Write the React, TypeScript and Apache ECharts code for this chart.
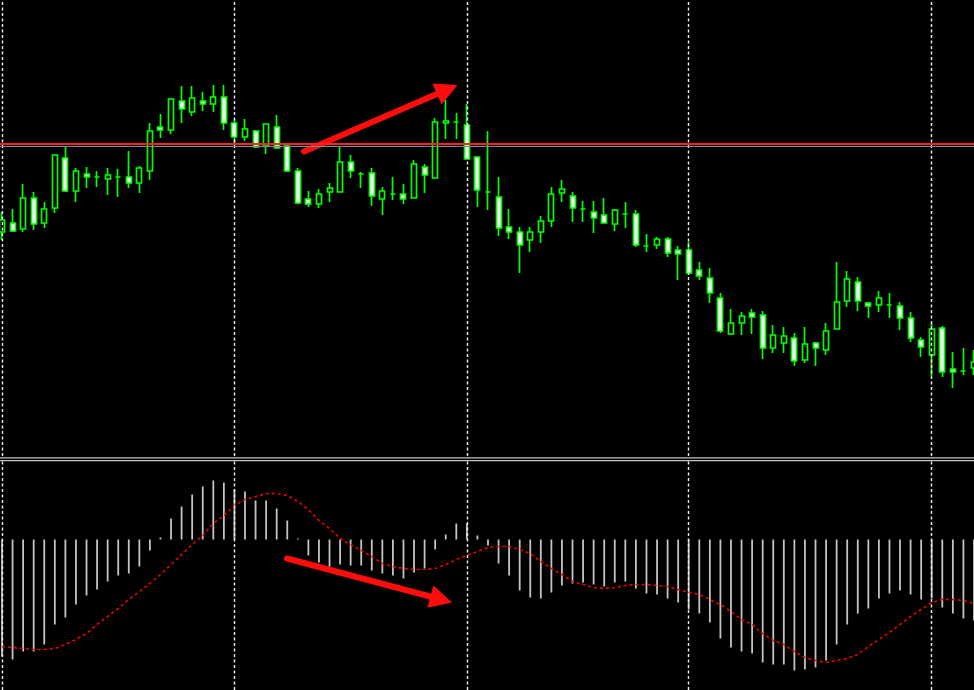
import React, { useEffect, useRef } from "react";
import * as echarts from "echarts";

// bar labels (hidden, one per candle)
const CATEGORIES: string[] = Array.from({ length: 93 }, (_, i) => `Bar ${i + 1}`);

const OPEN = [
  147.68, 147.77, 147.71, 148.02, 147.77, 147.92, 148.42, 148.09, 148.26, 148.23,
  148.21, 148.23, 148.23, 148.17, 148.29, 148.73, 148.70, 148.99, 148.88, 148.99,
  148.96, 149.03, 148.77, 148.63, 148.69, 148.54, 148.73, 148.54, 148.29, 148.01,
  147.96, 148.08, 148.08, 148.38, 148.26, 148.27, 148.01, 148.06, 148.06, 148.02,
  148.33, 148.22, 148.77, 148.78, 148.75, 148.43, 148.08, 148.03, 147.73, 147.68,
  147.60, 147.68, 147.79, 148.07, 148.04, 147.91, 147.88, 147.85, 147.76, 147.86,
  147.86, 147.54, 147.55, 147.61, 147.50, 147.50, 147.30, 147.22, 147.02, 146.66,
  146.77, 146.87, 146.85, 146.52, 146.57, 146.62, 146.40, 146.57, 146.50, 146.71,
  146.99, 147.18, 146.97, 146.95, 146.95, 146.94, 146.82, 146.60, 146.45, 146.72,
  146.31, 146.29, 146.32,
];
const CLOSE = [
  147.80, 147.69, 148.02, 147.76, 147.91, 148.45, 148.09, 148.29, 148.23, 148.23,
  148.25, 148.23, 148.17, 148.32, 148.69, 148.70, 149.01, 148.91, 149.02, 148.96,
  149.03, 148.77, 148.63, 148.71, 148.53, 148.76, 148.52, 148.29, 147.97, 147.96,
  148.06, 148.12, 148.38, 148.29, 148.26, 148.04, 148.09, 148.06, 148.01, 148.36,
  148.25, 148.78, 148.79, 148.78, 148.41, 148.10, 148.08, 147.72, 147.68, 147.55,
  147.68, 147.79, 148.06, 148.11, 147.92, 147.91, 147.82, 147.77, 147.90, 147.86,
  147.55, 147.54, 147.61, 147.47, 147.46, 147.27, 147.24, 147.07, 146.69, 146.77,
  146.84, 146.83, 146.52, 146.65, 146.64, 146.39, 146.56, 146.52, 146.69, 146.98,
  147.21, 146.99, 146.94, 147.02, 146.95, 146.82, 146.62, 146.53, 146.71, 146.28,
  146.28, 146.29, 146.38,
];
const HIGH = [
  147.88, 147.91, 148.16, 148.08, 147.98, 148.45, 148.53, 148.32, 148.33, 148.29,
  148.32, 148.31, 148.49, 148.34, 148.77, 148.86, 149.02, 149.14, 149.14, 149.08,
  149.15, 149.15, 148.81, 148.81, 148.70, 148.76, 148.85, 148.55, 148.32, 148.09,
  148.11, 148.17, 148.53, 148.45, 148.28, 148.32, 148.13, 148.23, 148.16, 148.40,
  148.36, 148.82, 149.00, 148.87, 148.96, 148.43, 148.69, 148.23, 147.91, 147.73,
  147.73, 147.84, 148.13, 148.20, 148.08, 147.99, 147.99, 148.02, 147.91, 147.98,
  147.90, 147.66, 147.63, 147.63, 147.54, 147.58, 147.38, 147.32, 147.07, 146.91,
  146.88, 146.91, 146.89, 146.75, 146.73, 146.67, 146.73, 146.58, 146.77, 147.38,
  147.29, 147.23, 146.98, 147.09, 147.07, 146.98, 146.88, 146.63, 146.77, 146.74,
  146.48, 146.52, 146.50,
];
const LOW = [
  147.60, 147.68, 147.68, 147.70, 147.72, 147.87, 148.08, 147.98, 148.12, 148.13,
  148.05, 148.03, 148.12, 148.07, 148.20, 148.62, 148.66, 148.77, 148.84, 148.89,
  148.88, 148.70, 148.57, 148.59, 148.52, 148.46, 148.51, 148.28, 147.96, 147.93,
  147.92, 147.98, 148.08, 148.22, 148.12, 147.94, 147.85, 148.00, 147.96, 148.02,
  148.07, 148.22, 148.61, 148.61, 148.41, 147.93, 147.90, 147.64, 147.61, 147.27,
  147.48, 147.57, 147.73, 147.98, 147.78, 147.78, 147.67, 147.77, 147.69, 147.72,
  147.53, 147.48, 147.51, 147.43, 147.20, 147.25, 147.20, 146.97, 146.67, 146.65,
  146.65, 146.66, 146.41, 146.47, 146.47, 146.34, 146.37, 146.34, 146.45, 146.71,
  146.93, 146.89, 146.82, 146.88, 146.82, 146.70, 146.58, 146.43, 146.24, 146.23,
  146.12, 146.25, 146.25,
];

// MACD histogram (main line) and signal line
const MACD_HIST = [
  -1.17, -1.20, -1.12, -1.12, -1.05, -0.85, -0.78, -0.65, -0.56, -0.50,
  -0.42, -0.36, -0.34, -0.27, -0.11, 0.02, 0.21, 0.33, 0.45, 0.53,
  0.59, 0.57, 0.50, 0.48, 0.39, 0.39, 0.31, 0.19, 0.01, -0.16,
  -0.23, -0.27, -0.25, -0.26, -0.26, -0.31, -0.34, -0.36, -0.39, -0.33,
  -0.29, -0.10, 0.05, 0.16, 0.16, 0.04, -0.06, -0.24, -0.36, -0.51,
  -0.58, -0.59, -0.53, -0.46, -0.44, -0.43, -0.45, -0.47, -0.43, -0.42,
  -0.49, -0.54, -0.55, -0.59, -0.63, -0.70, -0.74, -0.83, -0.99, -1.08,
  -1.12, -1.14, -1.23, -1.25, -1.25, -1.31, -1.30, -1.28, -1.21, -1.05,
  -0.85, -0.74, -0.69, -0.59, -0.54, -0.51, -0.55, -0.60, -0.59, -0.68,
  -0.74, -0.79, -0.81,
];
const MACD_SIGNAL = [
  -1.07, -1.08, -1.09, -1.10, -1.10, -1.09, -1.05, -1.00, -0.94, -0.85,
  -0.77, -0.69, -0.60, -0.52, -0.44, -0.35, -0.25, -0.15, -0.05, 0.04,
  0.16, 0.24, 0.34, 0.40, 0.43, 0.46, 0.46, 0.44, 0.38, 0.30,
  0.19, 0.11, 0.01, -0.05, -0.11, -0.17, -0.24, -0.27, -0.29, -0.30,
  -0.30, -0.29, -0.25, -0.20, -0.16, -0.12, -0.08, -0.07, -0.07, -0.10,
  -0.14, -0.22, -0.29, -0.35, -0.42, -0.45, -0.48, -0.49, -0.48, -0.46,
  -0.45, -0.45, -0.46, -0.47, -0.50, -0.53, -0.55, -0.60, -0.65, -0.72,
  -0.80, -0.85, -0.94, -1.01, -1.05, -1.12, -1.18, -1.21, -1.23, -1.21,
  -1.19, -1.15, -1.07, -1.00, -0.93, -0.85, -0.77, -0.70, -0.63, -0.60,
  -0.60, -0.61, -0.64,
];

// session separators (bar indices) and horizontal price lines
const SEPARATORS = [0, 22, 44, 65, 88];
const RED_LEVEL = 148.557;
const BID_LEVEL = 148.542;

// the chart canvas extends a little beyond the visible frame on both sides
const OX = 10;

export default function App() {
  const ref = useRef<HTMLDivElement>(null);

  useEffect(() => {
    if (!ref.current) return;
    const chart = echarts.init(ref.current, undefined, { renderer: "svg" });
    const step = 10.565;
    const left = OX + 2 - step / 2;
    const width = step * CATEGORIES.length;
    const candleData = OPEN.map((o, i) => [o, CLOSE[i], LOW[i], HIGH[i]]);
    const sepLine = {
      silent: true,
      symbol: "none",
      label: { show: false },
      lineStyle: { color: "#f0f0f0", type: [3, 2.5], width: 1.4 },
      data: SEPARATORS.map((i) => ({ xAxis: i })),
    };

    chart.setOption({
      animation: false,
      backgroundColor: "#000000",
      grid: [
        { left, width, top: 0, height: 456 },
        { left, width, top: 461, height: 229 },
      ],
      xAxis: [
        { type: "category", data: CATEGORIES, gridIndex: 0, show: false, boundaryGap: true },
        { type: "category", data: CATEGORIES, gridIndex: 1, show: false, boundaryGap: true },
      ],
      yAxis: [
        { type: "value", gridIndex: 0, min: 145.44, max: 150, show: false, splitLine: { show: false } },
        { type: "value", gridIndex: 1, min: -1.505, max: 0.785, show: false, splitLine: { show: false } },
      ],
      series: [
        {
          type: "line",
          xAxisIndex: 0,
          yAxisIndex: 0,
          data: [],
          markLine: sepLine,
          z: 1,
        },
        {
          type: "candlestick",
          xAxisIndex: 0,
          yAxisIndex: 0,
          data: candleData,
          barWidth: 5.5,
          z: 3,
          itemStyle: {
            color: "#000000",
            color0: "#ffffff",
            borderColor: "#00ff00",
            borderColor0: "#00ff00",
            borderColorDoji: "#00ff00",
            borderWidth: 1.7,
          },
          markLine: {
            silent: true,
            symbol: "none",
            label: { show: false },
            data: [
              { yAxis: BID_LEVEL, lineStyle: { color: "#7f8a96", width: 1.2, type: "solid" } },
              { yAxis: RED_LEVEL, lineStyle: { color: "#ff2020", width: 2, type: "solid" } },
            ],
          },
        },
        {
          type: "bar",
          xAxisIndex: 1,
          yAxisIndex: 1,
          data: MACD_HIST,
          barWidth: 1.8,
          itemStyle: { color: "#c4c4c4" },
          markLine: sepLine,
        },
        {
          type: "line",
          xAxisIndex: 1,
          yAxisIndex: 1,
          data: MACD_SIGNAL,
          symbol: "none",
          smooth: false,
          lineStyle: { color: "#f00000", width: 1.6, type: [3, 3] },
        },
      ],
      graphic: [
        { type: "line", shape: { x1: 0, y1: 457.8, x2: 1000, y2: 457.8 }, style: { stroke: "#c4c4c4", lineWidth: 1.3 } },
        { type: "line", shape: { x1: 0, y1: 460.7, x2: 1000, y2: 460.7 }, style: { stroke: "#c4c4c4", lineWidth: 1.3 } },
        { type: "line", shape: { x1: OX + 304, y1: 151.5, x2: OX + 438, y2: 93.5 }, style: { stroke: "#ff0d0d", lineWidth: 6, lineCap: "round" } },
        { type: "polygon", shape: { points: [[OX + 457.5, 85], [OX + 432.4, 83.6], [OX + 441.6, 104.5]] }, style: { fill: "#ff0d0d" } },
        { type: "line", shape: { x1: OX + 287, y1: 558.5, x2: OX + 432, y2: 597 }, style: { stroke: "#ff0d0d", lineWidth: 6, lineCap: "round" } },
        { type: "polygon", shape: { points: [[OX + 452, 602.5], [OX + 433.4, 585.6], [OX + 427.4, 607.8]] }, style: { fill: "#ff0d0d" } },
      ],
    });

    return () => chart.dispose();
  }, []);

  return (
    <div
      style={{ position: "fixed", left: 0, top: 0, width: 974, height: 690, overflow: "hidden", background: "#000" }}
    >
      <div
        ref={ref}
        style={{ position: "absolute", left: -OX, top: 0, width: 1000, height: 690 }}
      />
    </div>
  );
}
